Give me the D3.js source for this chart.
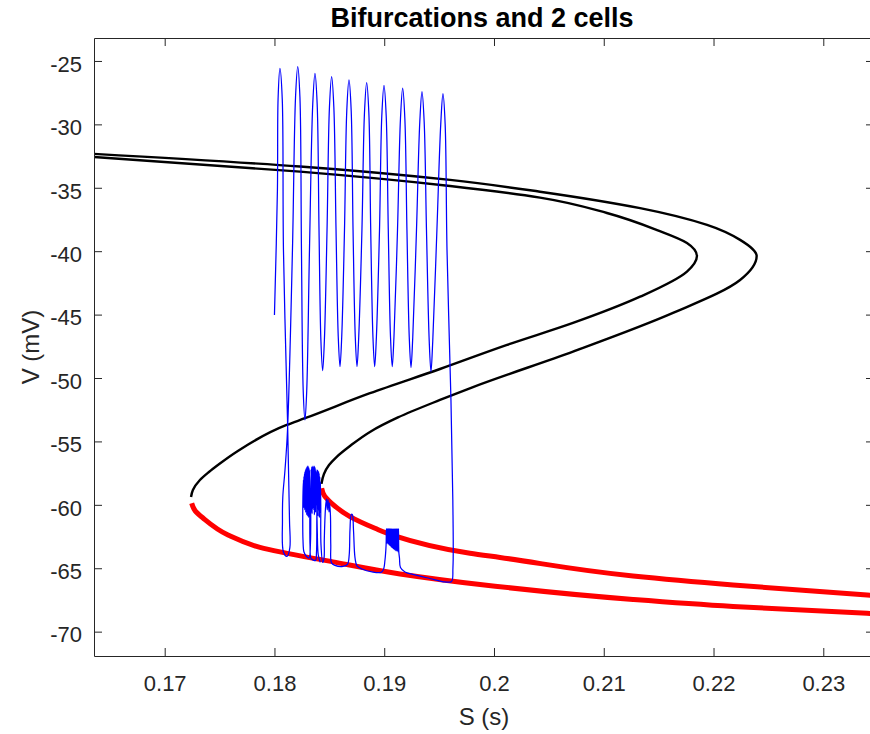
<!DOCTYPE html>
<html>
<head>
<meta charset="utf-8">
<script src="https://cdn.jsdelivr.net/npm/d3@7/dist/d3.min.js"></script>
<style>
  html, body { margin: 0; padding: 0; background: #fff; }
  svg { display: block; }
  text { font-family: "Liberation Sans", Arial, Helvetica, sans-serif; fill: #262626; }
</style>
</head>
<body>
<svg id="chart" width="870" height="734"></svg>
<script>
// ---------------- data ----------------
const title = "Bifurcations and 2 cells";
const xLabel = "S (s)";
const yLabel = "V (mV)";
const xDomain = [0.16356, 0.23462];
const yDomain = [-71.92, -23.19];
const xTicks = [0.17, 0.18, 0.19, 0.2, 0.21, 0.22, 0.23];
const xTickLabels = ["0.17", "0.18", "0.19", "0.2", "0.21", "0.22", "0.23"];
const yTicks = [-70, -65, -60, -55, -50, -45, -40, -35, -30, -25];
const yTickLabels = ["-70", "-65", "-60", "-55", "-50", "-45", "-40", "-35", "-30", "-25"];

// cell 1 bifurcation curve [S, V]: upper/middle branches (black) and stable rest branch (red)
const cell1Unstable = [
  [0.16301, -32.54], [0.18233, -33.73], [0.19600, -34.86], [0.20419, -35.78], [0.21029, -36.99],
  [0.21485, -38.33], [0.21758, -39.35], [0.21849, -40.38], [0.21758, -41.61], [0.21331, -43.59],
  [0.20720, -45.66], [0.20119, -47.39], [0.19508, -49.29], [0.18870, -51.20], [0.18278, -53.17],
  [0.18111, -53.70], [0.17656, -55.81], [0.17497, -56.78], [0.17403, -57.41], [0.17321, -58.04],
  [0.17257, -58.83], [0.17240, -59.38]
];
const cell1Stable = [
  [0.17246, -59.88], [0.17278, -60.48], [0.17349, -61.04], [0.17577, -62.38], [0.17868, -63.36],
  [0.18533, -64.50], [0.19144, -65.45], [0.19873, -66.28], [0.21267, -67.46], [0.22178, -68.01],
  [0.23399, -68.55], [0.23518, -68.60]
];
// cell 2 bifurcation curve
const cell2Unstable = [
  [0.16301, -32.30], [0.18233, -33.32], [0.19600, -34.38], [0.20419, -35.31], [0.21331, -36.61],
  [0.21941, -37.93], [0.22242, -39.11], [0.22393, -40.38], [0.22242, -42.27], [0.21631, -44.87],
  [0.20720, -47.92], [0.19809, -50.71], [0.19508, -51.73], [0.19125, -53.11], [0.18870, -54.25],
  [0.18688, -55.36], [0.18565, -56.23], [0.18497, -56.86], [0.18451, -57.57], [0.18428, -58.35]
];
const cell2Stable = [
  [0.18430, -58.69], [0.18456, -59.30], [0.18521, -59.88], [0.18688, -60.93], [0.18916, -61.85],
  [0.19080, -62.41], [0.19781, -63.82], [0.20055, -64.15], [0.21267, -65.61], [0.22178, -66.32],
  [0.23399, -67.11], [0.23518, -67.19]
];

// simulated trajectory [S, V]
const trajectory = [
  // tonic spiking phase
  [0.18000, -45.03], [0.18027, -35.17], [0.18033, -28.00], [0.18050, -25.58], [0.18071, -28.00],
  [0.18082, -39.90], [0.18119, -53.31], [0.18137, -61.19], [0.18140, -63.40], [0.18114, -64.07],
  [0.18082, -63.72], [0.18073, -61.19], [0.18076, -59.38], [0.18096, -57.25], [0.18119, -54.10],
  [0.18164, -39.90], [0.18192, -27.85], [0.18212, -25.45], [0.18232, -27.85], [0.18246, -39.90],
  [0.18262, -51.00], [0.18278, -53.31], [0.18294, -51.00], [0.18319, -39.90], [0.18349, -28.37],
  [0.18369, -25.97], [0.18389, -28.37], [0.18406, -38.33], [0.18423, -47.00], [0.18439, -49.42],
  [0.18455, -47.00], [0.18479, -38.33], [0.18501, -28.64], [0.18521, -26.24], [0.18541, -28.64],
  [0.18561, -38.33], [0.18581, -46.70], [0.18597, -49.11], [0.18613, -46.70], [0.18638, -38.33],
  [0.18659, -28.90], [0.18679, -26.50], [0.18699, -28.90], [0.18716, -38.33], [0.18736, -46.70],
  [0.18752, -49.11], [0.18768, -46.70], [0.18797, -38.33], [0.18820, -29.11], [0.18840, -26.71],
  [0.18860, -29.11], [0.18877, -38.33], [0.18897, -46.70], [0.18913, -49.11], [0.18929, -46.70],
  [0.18957, -38.33], [0.18978, -29.32], [0.18998, -26.92], [0.19018, -29.32], [0.19037, -38.33],
  [0.19057, -46.70], [0.19073, -49.11], [0.19089, -46.70], [0.19121, -38.33], [0.19148, -29.55],
  [0.19168, -27.15], [0.19188, -29.55], [0.19207, -38.33], [0.19228, -46.78], [0.19244, -49.18],
  [0.19260, -46.78], [0.19294, -38.33], [0.19324, -29.82], [0.19344, -27.42], [0.19364, -29.82],
  [0.19385, -38.33], [0.19410, -47.10], [0.19426, -49.50], [0.19442, -47.10], [0.19480, -38.33],
  [0.19515, -29.98], [0.19535, -27.58], [0.19555, -29.98], [0.19572, -39.90], [0.19608, -51.73],
  [0.19625, -59.62], [0.19626, -64.98], [0.19613, -66.04], [0.19553, -66.08], [0.19417, -65.81],
  [0.19280, -65.53], [0.19189, -65.29], [0.19148, -64.94], [0.19139, -64.19], [0.19133, -63.72],
  // fast oscillation block near S = 0.19
  [0.19130, -61.88], [0.19125, -63.70], [0.19120, -61.88], [0.19115, -63.66], [0.19110, -61.88],
  [0.19105, -63.62], [0.19100, -61.88], [0.19095, -63.55], [0.19090, -61.88], [0.19085, -63.50],
  [0.19080, -61.88], [0.19075, -63.42], [0.19070, -61.88], [0.19065, -63.35], [0.19060, -61.88],
  [0.19055, -63.25], [0.19050, -61.88], [0.19045, -63.18], [0.19040, -61.88], [0.19035, -63.10],
  [0.19030, -61.88], [0.19025, -63.02], [0.19020, -61.88],
  [0.19017, -63.16], [0.19007, -64.35], [0.18993, -65.10], [0.18971, -65.33], [0.18889, -65.29],
  [0.18797, -65.06], [0.18752, -64.82], [0.18734, -64.19], [0.18720, -61.98], [0.18709, -60.76],
  [0.18700, -60.76], [0.18688, -61.98], [0.18681, -63.95], [0.18665, -64.70], [0.18624, -64.86],
  [0.18551, -64.78], [0.18520, -64.58], [0.18513, -63.16], [0.18510, -60.80], [0.18501, -59.85],
  [0.18497, -60.56], [0.18488, -59.58], [0.18481, -60.40], [0.18474, -59.54], [0.18465, -60.25],
  [0.18454, -62.77], [0.18452, -64.19], [0.18440, -64.54],
  // burst cluster near the cell-2 knee
  [0.18424, -63.16], [0.18422, -60.01], [0.18419, -58.20], [0.18416, -60.60], [0.18413, -57.80],
  [0.18410, -61.00], [0.18407, -57.50], [0.18404, -60.40], [0.18401, -57.35], [0.18398, -60.90],
  [0.18395, -57.30], [0.18392, -60.30], [0.18389, -57.25], [0.18386, -61.19], [0.18383, -63.72],
  [0.18374, -64.39], [0.18352, -64.35], [0.18333, -64.23], [0.18324, -63.16],
  [0.18322, -60.01], [0.18319, -57.25], [0.18317, -60.50], [0.18315, -57.10], [0.18312, -61.00],
  [0.18310, -57.01], [0.18308, -60.30], [0.18306, -56.95], [0.18303, -60.90], [0.18301, -56.93],
  [0.18299, -60.20], [0.18296, -57.00], [0.18294, -60.80], [0.18292, -57.09], [0.18289, -60.10],
  [0.18287, -57.15], [0.18285, -60.60], [0.18283, -57.25], [0.18280, -60.00], [0.18278, -57.40],
  [0.18276, -60.40], [0.18274, -57.56], [0.18271, -59.90], [0.18269, -57.80], [0.18266, -60.20],
  [0.18264, -58.04], [0.18258, -60.40],
  [0.18260, -62.77], [0.18269, -63.72], [0.18292, -64.07], [0.18315, -64.19], [0.18328, -63.00],
  [0.18331, -59.80], [0.18334, -57.20], [0.18337, -60.50], [0.18340, -57.00], [0.18343, -60.70],
  [0.18346, -56.95], [0.18349, -60.30], [0.18352, -57.00], [0.18355, -60.10], [0.18357, -57.05],
  [0.18359, -60.40], [0.18362, -56.95], [0.18364, -60.80], [0.18367, -57.00], [0.18369, -60.20],
  [0.18371, -57.09], [0.18374, -60.60], [0.18376, -57.30], [0.18378, -60.00], [0.18380, -57.40],
  [0.18390, -62.00], [0.18399, -63.95], [0.18417, -64.54]
];

// ---------------- layout ----------------
const margin = { left: 94, right: 874, top: 38, bottom: 656 };
const svg = d3.select("#chart");
const x = d3.scaleLinear().domain(xDomain).range([margin.left, margin.right]);
const y = d3.scaleLinear().domain(yDomain).range([margin.bottom, margin.top]);

svg.append("defs").append("clipPath").attr("id", "plotclip")
  .append("rect")
  .attr("x", margin.left).attr("y", margin.top)
  .attr("width", margin.right - margin.left).attr("height", margin.bottom - margin.top);

// bifurcation branches: S is a single-valued function of V along each branch
const branchLine = d3.line()
  .x(d => x(d[0])).y(d => y(d[1]))
  .curve(d3.curveMonotoneY);
const traceLine = d3.line()
  .x(d => x(d[0])).y(d => y(d[1]))
  .curve(d3.curveCatmullRom.alpha(0.5));

const plot = svg.append("g").attr("clip-path", "url(#plotclip)");

[cell1Unstable, cell2Unstable].forEach(arr => {
  plot.append("path").datum(arr).attr("d", branchLine)
    .attr("fill", "none").attr("stroke", "#000").attr("stroke-width", 2.4)
    .attr("stroke-linejoin", "round");
});
[cell1Stable, cell2Stable].forEach(arr => {
  plot.append("path").datum(arr).attr("d", branchLine)
    .attr("fill", "none").attr("stroke", "#ff0000").attr("stroke-width", 5)
    .attr("stroke-linejoin", "round");
});
plot.append("path").datum(trajectory).attr("d", traceLine)
  .attr("fill", "none").attr("stroke", "#0000ff").attr("stroke-width", 1.25)
  .attr("stroke-linejoin", "round");

// ---------------- axes ----------------
const axisColor = "#262626";
function styleAxis(g) {
  g.select(".domain").attr("stroke", axisColor).attr("stroke-width", 1).attr("fill", "none");
  g.selectAll(".tick line").attr("stroke", axisColor).attr("stroke-width", 1);
  g.selectAll(".tick text").attr("fill", axisColor)
    .style("font-family", '"Liberation Sans", Arial, sans-serif').style("font-size", "22px");
}

svg.append("g").attr("transform", `translate(0,${margin.bottom})`)
  .call(d3.axisBottom(x).tickValues(xTicks).tickFormat((d, i) => xTickLabels[i])
    .tickSizeInner(-8).tickSizeOuter(0).tickPadding(19))
  .call(styleAxis);
svg.append("g").attr("transform", `translate(0,${margin.top})`)
  .call(d3.axisTop(x).tickValues(xTicks).tickFormat("")
    .tickSizeInner(-8).tickSizeOuter(0))
  .call(styleAxis);
const yAx = svg.append("g").attr("transform", `translate(${margin.left},0)`)
  .call(d3.axisLeft(y).tickValues(yTicks).tickFormat((d, i) => yTickLabels[i])
    .tickSizeInner(-8).tickSizeOuter(0).tickPadding(12))
  .call(styleAxis);
yAx.selectAll(".tick text").attr("dy", "0.47em");
svg.append("g").attr("transform", `translate(${margin.right},0)`)
  .call(d3.axisRight(y).tickValues(yTicks).tickFormat("")
    .tickSizeInner(-8).tickSizeOuter(0))
  .call(styleAxis);

// ---------------- labels ----------------
const cx = (margin.left + margin.right) / 2;
svg.append("text").attr("x", cx - 2).attr("y", 27).attr("text-anchor", "middle")
  .style("font-size", "27px").style("font-weight", "bold").style("fill", "#000").text(title);
svg.append("text").attr("x", cx).attr("y", 725).attr("text-anchor", "middle")
  .style("font-size", "24px").text(xLabel);
svg.append("text").attr("transform", `translate(39,${(margin.top + margin.bottom) / 2}) rotate(-90)`)
  .attr("text-anchor", "middle").style("font-size", "24px").text(yLabel);
</script>
</body>
</html>
